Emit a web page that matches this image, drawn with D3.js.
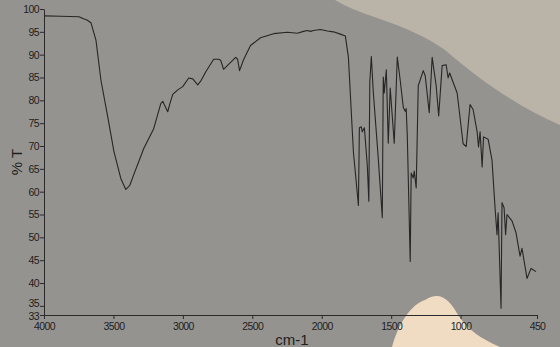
<!DOCTYPE html>
<html>
<head>
<meta charset="utf-8">
<script src="https://cdn.jsdelivr.net/npm/d3@7"></script>
<style>
  body { margin: 0; background: #959390; }
  svg { display: block; }
  .axis text { font-family: "Liberation Sans", Arial, sans-serif; font-size: 10.5px; fill: #1e1e1e; letter-spacing: -0.6px; }
  .axis path, .axis line { stroke: #2a2a2a; stroke-width: 1; }
  .axis-title { font-family: "Liberation Sans", Arial, sans-serif; fill: #1e1e1e; }
</style>
</head>
<body>
<div id="chart"></div>
<script>
// wavenumber (cm-1)
const wavenumbers = [4000, 3878, 3748, 3720, 3691, 3662, 3626, 3590, 3540, 3497,
  3447, 3411, 3382, 3353, 3281, 3210, 3159, 3145, 3123, 3109,
  3095, 3073, 3037, 3001, 2958, 2929, 2893, 2872, 2836, 2778,
  2742, 2728, 2707, 2671, 2620, 2606, 2592, 2563, 2513, 2441,
  2347, 2247, 2175, 2132, 2103, 2081, 2060, 2010, 1959, 1916,
  1866, 1830, 1808, 1772, 1736, 1729, 1715, 1708, 1693, 1672,
  1661, 1654, 1643, 1629, 1593, 1564, 1557, 1550, 1535, 1521,
  1507, 1478, 1456, 1435, 1413, 1399, 1392, 1384, 1363, 1356,
  1341, 1334, 1320, 1305, 1269, 1255, 1226, 1205, 1176, 1158,
  1133, 1104, 1090, 1079, 1025, 982, 960, 932, 910, 881,
  871, 860, 845, 835, 802, 774, 752, 738, 730, 709,
  702, 687, 676, 666, 630, 601, 572, 558, 522, 493, 457]

// transmittance (%T)
const transmittance = [98.5, 98.4, 98.3, 97.9, 97.6, 97.0, 93.2, 84.4, 76.2, 68.9,
  62.9, 60.5, 61.4, 63.8, 69.5, 73.8, 79.3, 79.8, 78.4, 77.5,
  79.1, 81.3, 82.3, 83.0, 84.9, 84.7, 83.4, 84.2, 86.2, 89.0,
  89.0, 88.8, 86.8, 87.9, 89.4, 89.0, 86.5, 88.9, 92.0, 93.7,
  94.6, 94.9, 94.7, 95.1, 95.3, 95.1, 95.3, 95.5, 95.2, 95.0,
  94.5, 94.1, 89.4, 68.7, 57.0, 74.0, 74.2, 73.1, 74.0, 65.8,
  57.9, 83.9, 89.6, 81.9, 67.3, 54.3, 85.1, 81.6, 86.7, 70.6,
  82.7, 70.6, 89.5, 84.4, 78.5, 77.6, 78.2, 72.3, 44.7, 64.1,
  63.0, 64.5, 60.8, 83.2, 86.5, 85.4, 77.3, 89.4, 83.2, 76.6,
  87.6, 87.8, 84.9, 86.0, 81.6, 70.5, 69.9, 79.1, 78.0, 73.1,
  69.8, 73.1, 65.4, 72.0, 71.5, 66.9, 56.5, 50.6, 55.4, 34.5,
  57.6, 56.5, 50.6, 55.0, 53.6, 51.0, 45.9, 47.6, 41.0, 43.2, 42.5]

const xTicks = [4000, 3500, 3000, 2500, 2000, 1500, 1000, 450]
const yTicks = [100, 95, 90, 85, 80, 75, 70, 65, 60, 55, 50, 45, 40, 35, 33]

const width = 560
const height = 347
const margin = {top: 9, right: 23, bottom: 32, left: 44}

const svg = d3.select("#chart")
    .append("svg")
    .attr("width", width)
    .attr("height", height)

// paper shading from the photo
svg.append("path")
    .attr("d", "M335,0 L560,0 L560,125 C525,110 485,85 445,50 C405,22 365,18 335,0 Z")
    .attr("fill", "#bab3a7")
svg.append("path")
    .attr("d", "M392,347 C398,325 410,305 425,300 C440,290 450,300 458,315 C468,330 480,338 500,347 Z")
    .attr("fill", "#efdcc2")

const x = d3.scaleLinear()
    .domain([4000, 450])
    .range([margin.left, width - margin.right])

const y = d3.scaleLinear()
    .domain([33, 100])
    .range([height - margin.bottom, margin.top])

const xAxis = d3.axisBottom(x).tickValues(xTicks).tickSize(4).tickSizeOuter(0).tickFormat(d3.format("d"))
const yAxis = d3.axisLeft(y).tickValues(yTicks).tickSize(4).tickSizeOuter(0).tickPadding(1)

svg.append("g")
    .attr("class", "axis x-axis")
    .attr("transform", `translate(0,${height - margin.bottom})`)
    .call(xAxis)
    .selectAll("text")
    .attr("dy", "0.8em")

const yAxisGroup = svg.append("g")
    .attr("class", "axis y-axis")
    .attr("transform", `translate(${margin.left},0)`)
    .call(yAxis)

// the 35 and 33 labels sit very close, push them apart a little
yAxisGroup.selectAll(".tick text")
    .filter(d => d == 33)
    .attr("dy", "0.38em")
yAxisGroup.selectAll(".tick text")
    .filter(d => d == 35)
    .attr("dy", "0.02em")

const spectrum = wavenumbers.map((w, i) => ({w: w, t: transmittance[i]}))

const line = d3.line()
    .x(d => x(d.w))
    .y(d => y(d.t))

svg.append("path")
    .datum(spectrum)
    .attr("fill", "none")
    .attr("stroke", "#262626")
    .attr("stroke-width", 1.1)
    .attr("stroke-linejoin", "round")
    .attr("d", line)

svg.append("text")
    .attr("class", "axis-title")
    .attr("transform", "rotate(-90)")
    .attr("x", -(margin.top + height - margin.bottom) / 2)
    .attr("y", 22)
    .style("text-anchor", "middle")
    .style("font-size", "15px")
    .text("% T")

svg.append("text")
    .attr("class", "axis-title")
    .attr("x", 292)
    .attr("y", 345)
    .style("text-anchor", "middle")
    .style("font-size", "15px")
    .text("cm-1")
</script>
</body>
</html>
